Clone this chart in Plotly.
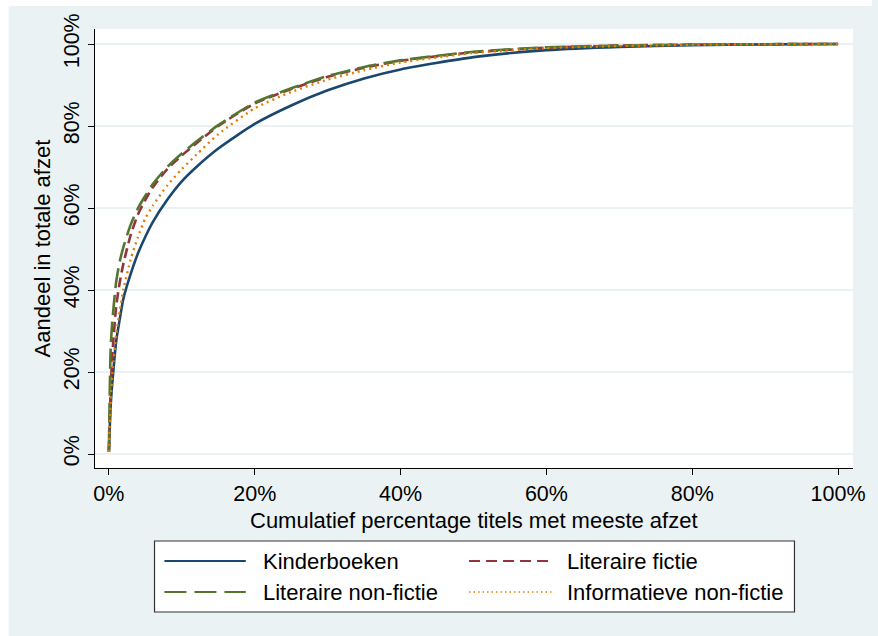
import plotly.graph_objects as go

# ---------------- data ----------------
x_pct = [0, 0.25, 0.5, 1, 1.5, 2, 3, 4, 5, 6, 8, 10, 12, 15, 20, 25, 30, 35, 40, 50, 60, 70, 80, 90, 100]

kinderboeken = [0.5, 12, 18, 27.5, 33, 38, 44, 49, 53, 56.5, 62, 66.5, 70, 74.5, 80.5, 85, 88.7, 91.6, 93.8, 96.8, 98.5, 99.3, 99.7, 99.9, 100]
literaire_fictie = [0.5, 16, 25, 36, 42, 46.5, 53.5, 58.5, 62, 65, 69.5, 72.8, 75.8, 80, 85.5, 89, 92, 94.2, 95.9, 98, 99.1, 99.6, 99.85, 99.95, 100]
literaire_nonfictie = [1, 26, 33, 42, 47, 50.5, 56, 60, 63, 65.8, 70, 73.3, 76.2, 80.2, 85.7, 89.2, 92.2, 94.4, 96, 98.1, 99.2, 99.6, 99.85, 99.95, 100]
informatieve_nonfictie = [0.5, 13, 20, 29, 35, 40.3, 47.5, 53, 57.5, 60.5, 65.5, 69.5, 73, 78, 84.3, 88.3, 91.3, 93.6, 95.5, 97.8, 99, 99.5, 99.8, 99.95, 100]

series_names = ["Kinderboeken", "Literaire fictie", "Literaire non-fictie", "Informatieve non-fictie"]
tick_vals = [0, 20, 40, 60, 80, 100]
tick_text = ["0%", "20%", "40%", "60%", "80%", "100%"]
x_title = "Cumulatief percentage titels met meeste afzet"
y_title = "Aandeel in totale afzet"

# ---------------- style ----------------
FONT = "Liberation Sans, Arial, sans-serif"
BG = "#eaf2f3"
colors = ["#1a476f", "#90353b", "#55752f", "#e37e00"]
dashes = ["solid", "10px,5px", "20px,7px", "2px,4px"]
widths = [2.6, 2.6, 2.6, 2.4]
ys = [kinderboeken, literaire_fictie, literaire_nonfictie, informatieve_nonfictie]

W, H = 878, 636
L, R, T, B = 95, 859, 29, 468  # plot area in pixels


def px(xp):
    return (xp - L) / (R - L)


def py(yp):
    return (B - yp) / (B - T)


fig = go.Figure()
for name, y, c, d, w in zip(series_names, ys, colors, dashes, widths):
    fig.add_trace(go.Scatter(x=x_pct, y=y, mode="lines", name=name,
                             line=dict(color=c, dash=d, width=w, shape="spline", smoothing=0.6),
                             showlegend=False, hoverinfo="skip"))

shapes = []
# white outer strips (top / left) of the original image
shapes.append(dict(type="rect", xref="paper", yref="paper", x0=px(0), x1=px(W), y0=py(6), y1=py(-2),
                   fillcolor="white", line=dict(width=0), layer="above"))
shapes.append(dict(type="rect", xref="paper", yref="paper", x0=px(-2), x1=px(8), y0=py(H + 2), y1=py(-2),
                   fillcolor="white", line=dict(width=0), layer="above"))
# legend box
shapes.append(dict(type="rect", xref="paper", yref="paper", x0=px(155), x1=px(800), y0=py(612), y1=py(541),
                   fillcolor="white", line=dict(color="#333333", width=1.2)))

leg_items = [
    (165, 247, 262, 561),
    (472, 555, 569, 561),
    (165, 247, 262, 592),
    (472, 555, 569, 592),
]
leg_width = [2, 2, 2, 1.6]
leg_dash = ["solid", "11px,6px", "22px,8px", "1.5px,3px"]
annotations = []
for (x0, x1, xt, yy), name, c, d, w in zip(leg_items, series_names, colors, leg_dash, leg_width):
    shapes.append(dict(type="line", xref="paper", yref="paper", x0=px(x0), x1=px(x1), y0=py(yy), y1=py(yy),
                       line=dict(color=c, width=w, dash=d)))
    annotations.append(dict(xref="paper", yref="paper", x=px(xt), y=py(yy), text=name, showarrow=False,
                            xanchor="left", yanchor="middle", font=dict(family=FONT, size=22, color="black")))

annotations.append(dict(xref="paper", yref="paper", x=px(477), y=py(520), text=x_title, showarrow=False,
                        xanchor="center", yanchor="middle", font=dict(family=FONT, size=22, color="black")))
annotations.append(dict(xref="paper", yref="paper", x=px(43), y=py(248), text=y_title, showarrow=False,
                        textangle=-90, xanchor="center", yanchor="middle",
                        font=dict(family=FONT, size=22, color="black")))

x_range = [(L - 109) / 7.35, (R - 109) / 7.35]
y_range = [(454 - B) / 4.1, (454 - T) / 4.1]

fig.update_layout(
    width=W, height=H,
    margin=dict(l=L, r=W - R, t=T, b=H - B, pad=0),
    paper_bgcolor=BG, plot_bgcolor="white",
    showlegend=False, hovermode=False,
    shapes=shapes, annotations=annotations,
    font=dict(family=FONT, size=21.5, color="black"),
    xaxis=dict(range=x_range, tickvals=tick_vals, ticktext=tick_text, showgrid=False, zeroline=False,
               showline=True, linecolor="black", linewidth=1, ticks="outside", ticklen=6,
               tickcolor="black", tickwidth=1, tickfont=dict(size=21.5), fixedrange=True),
    yaxis=dict(range=y_range, tickvals=tick_vals, ticktext=tick_text, showgrid=True, gridcolor=BG,
               gridwidth=2, zeroline=False, showline=True, linecolor="black", linewidth=1,
               ticks="outside", ticklen=6, tickcolor="black", tickwidth=1, tickangle=-90,
               tickfont=dict(size=21.5), fixedrange=True),
)

fig.write_html(
    "out.html",
    config={"displayModeBar": False},
    post_script=("document.documentElement.style.margin='0';document.documentElement.style.overflow='hidden';"
                 "document.body.style.margin='0';document.body.style.overflow='hidden';"),
)
